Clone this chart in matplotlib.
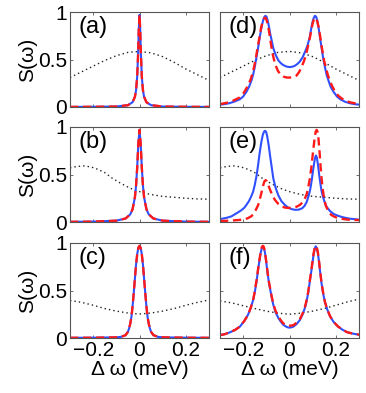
"""S(omega) spectra, six panels (a)-(f): blue solid / red dashed / black dotted."""

import matplotlib

matplotlib.use("Agg")
import matplotlib.pyplot as plt

plt.rcParams["font.family"] = ["Liberation Sans", "DejaVu Sans"]
plt.rcParams["axes.unicode_minus"] = True

# --- panel (a): narrow single line ---
x_a = [-0.3, -0.2, -0.1, -0.05, -0.03, -0.02, -0.015, -0.01, -0.006, -0.003, 0.0,
       0.003, 0.006, 0.01, 0.015, 0.02, 0.03, 0.05, 0.1, 0.2, 0.3]
s_a = [0.001, 0.002, 0.005, 0.019, 0.05, 0.106, 0.173, 0.319, 0.559, 0.82, 0.97,
       0.82, 0.559, 0.319, 0.173, 0.106, 0.05, 0.019, 0.005, 0.002, 0.001]
xd_a = [-0.3, -0.25, -0.2, -0.15, -0.1, -0.05, 0.0, 0.05, 0.1, 0.15, 0.2, 0.25, 0.3]
d_a = [0.31, 0.37, 0.43, 0.49, 0.54, 0.575, 0.585, 0.57, 0.53, 0.47, 0.40, 0.34, 0.28]

# --- panel (b) ---
x_b = [-0.3, -0.2, -0.1, -0.06, -0.04, -0.03, -0.02, -0.015, -0.01, -0.005, 0.0,
       0.005, 0.01, 0.015, 0.02, 0.03, 0.04, 0.06, 0.1, 0.2, 0.3]
s_b = [0.002, 0.004, 0.014, 0.037, 0.08, 0.134, 0.257, 0.378, 0.572, 0.826, 0.97,
       0.826, 0.572, 0.378, 0.257, 0.134, 0.08, 0.037, 0.014, 0.004, 0.002]
xd_be = [-0.3, -0.27, -0.24, -0.21, -0.18, -0.15, -0.12, -0.09, -0.06, -0.03, 0.0,
         0.03, 0.06, 0.1, 0.15, 0.2, 0.25, 0.3]
d_be = [0.57, 0.585, 0.59, 0.58, 0.555, 0.52, 0.465, 0.42, 0.38, 0.345, 0.32,
        0.30, 0.285, 0.27, 0.26, 0.25, 0.243, 0.24]

# --- panel (c) ---
x_c = [-0.3, -0.2, -0.1, -0.08, -0.06, -0.05, -0.045, -0.04, -0.035, -0.03, -0.025,
       -0.02, -0.015, -0.01, -0.005, 0.0, 0.005, 0.01, 0.015, 0.02, 0.025, 0.03,
       0.035, 0.04, 0.045, 0.05, 0.06, 0.08, 0.1, 0.2, 0.3]
s_c = [0.002, 0.003, 0.007, 0.012, 0.03, 0.065, 0.1, 0.15, 0.22, 0.33, 0.47,
       0.62, 0.77, 0.88, 0.95, 0.97, 0.95, 0.88, 0.77, 0.62, 0.47, 0.33,
       0.22, 0.15, 0.1, 0.065, 0.03, 0.012, 0.007, 0.003, 0.002]
xd_cf = [-0.3, -0.25, -0.2, -0.15, -0.1, -0.05, 0.0, 0.05, 0.1, 0.15, 0.2, 0.25, 0.3]
d_c = [0.395, 0.375, 0.345, 0.31, 0.283, 0.263, 0.252, 0.263, 0.283, 0.31, 0.345, 0.375, 0.40]

# --- panel (d): doublet ---
xb_d = [-0.3, -0.28, -0.26, -0.24, -0.215, -0.2, -0.186, -0.175, -0.164, -0.157,
        -0.15, -0.143, -0.135, -0.128, -0.12, -0.113, -0.108, -0.104, -0.099, -0.094,
        -0.089, -0.084, -0.077, -0.07, -0.06, -0.048, -0.037, -0.026, -0.012, 0.002,
        0.014, 0.024, 0.035, 0.045, 0.056, 0.067, 0.078, 0.088, 0.094, 0.1,
        0.105, 0.11, 0.115, 0.12, 0.127, 0.133, 0.138, 0.145, 0.153, 0.16,
        0.168, 0.178, 0.19, 0.205, 0.22, 0.24, 0.26, 0.28, 0.3]
sb_d = [0.025, 0.03, 0.04, 0.055, 0.08, 0.11, 0.16, 0.21, 0.28, 0.34,
        0.42, 0.52, 0.63, 0.74, 0.85, 0.92, 0.95, 0.96, 0.95, 0.91,
        0.85, 0.78, 0.70, 0.62, 0.55, 0.49, 0.46, 0.44, 0.425, 0.42,
        0.425, 0.435, 0.455, 0.48, 0.52, 0.58, 0.65, 0.74, 0.83, 0.9,
        0.94, 0.96, 0.95, 0.91, 0.81, 0.71, 0.63, 0.52, 0.42, 0.34,
        0.28, 0.21, 0.16, 0.11, 0.08, 0.055, 0.04, 0.03, 0.025]
xr_d = [-0.3, -0.28, -0.26, -0.24, -0.215, -0.2, -0.19, -0.178, -0.168, -0.16,
        -0.153, -0.145, -0.138, -0.13, -0.123, -0.116, -0.11, -0.106, -0.101, -0.096,
        -0.09, -0.084, -0.078, -0.072, -0.062, -0.05, -0.038, -0.026, -0.012, 0.002,
        0.016, 0.03, 0.042, 0.052, 0.062, 0.07, 0.078, 0.088, 0.095, 0.1,
        0.105, 0.11, 0.115, 0.12, 0.126, 0.132, 0.138, 0.145, 0.15, 0.157,
        0.164, 0.172, 0.182, 0.195, 0.21, 0.225, 0.245, 0.26, 0.28, 0.3]
sr_d = [0.03, 0.04, 0.05, 0.07, 0.1, 0.14, 0.18, 0.23, 0.29, 0.35,
        0.42, 0.52, 0.62, 0.73, 0.83, 0.9, 0.93, 0.94, 0.93, 0.89,
        0.82, 0.73, 0.63, 0.55, 0.45, 0.38, 0.34, 0.32, 0.31, 0.31,
        0.315, 0.33, 0.37, 0.42, 0.48, 0.54, 0.62, 0.73, 0.82, 0.88,
        0.92, 0.94, 0.93, 0.9, 0.84, 0.75, 0.65, 0.55, 0.48, 0.42,
        0.35, 0.29, 0.23, 0.17, 0.12, 0.09, 0.065, 0.05, 0.04, 0.03]

# --- panel (e): asymmetric doublet ---
xb_e = [-0.3, -0.27, -0.25, -0.23, -0.21, -0.195, -0.186, -0.175, -0.165, -0.157,
        -0.15, -0.142, -0.135, -0.128, -0.121, -0.115, -0.11, -0.106, -0.101, -0.096,
        -0.09, -0.084, -0.077, -0.07, -0.06, -0.048, -0.035, -0.02, -0.005, 0.01,
        0.025, 0.04, 0.055, 0.065, 0.074, 0.082, 0.09, 0.096, 0.102, 0.107,
        0.111, 0.114, 0.118, 0.123, 0.128, 0.133, 0.138, 0.145, 0.153, 0.16,
        0.175, 0.19, 0.21, 0.23, 0.26, 0.3]
sb_e = [0.03, 0.045, 0.06, 0.09, 0.12, 0.15, 0.18, 0.22, 0.27, 0.32,
        0.39, 0.49, 0.61, 0.74, 0.85, 0.92, 0.95, 0.96, 0.95, 0.9,
        0.81, 0.70, 0.58, 0.46, 0.36, 0.28, 0.22, 0.18, 0.15, 0.135,
        0.128, 0.13, 0.145, 0.17, 0.21, 0.27, 0.35, 0.44, 0.55, 0.63,
        0.68, 0.70, 0.68, 0.6, 0.5, 0.41, 0.33, 0.26, 0.2, 0.16,
        0.115, 0.085, 0.065, 0.05, 0.035, 0.025]
xr_e = [-0.3, -0.25, -0.2, -0.18, -0.165, -0.157, -0.145, -0.135, -0.127, -0.12,
        -0.113, -0.108, -0.103, -0.098, -0.092, -0.084, -0.074, -0.062, -0.048, -0.034,
        -0.02, -0.005, 0.01, 0.03, 0.045, 0.058, 0.067, 0.075, 0.082, 0.088,
        0.094, 0.099, 0.104, 0.109, 0.113, 0.117, 0.121, 0.125, 0.13, 0.134,
        0.138, 0.143, 0.15, 0.157, 0.168, 0.18, 0.19, 0.21, 0.25, 0.3]
sr_e = [0.01, 0.015, 0.025, 0.04, 0.06, 0.08, 0.13, 0.18, 0.25, 0.32,
        0.39, 0.43, 0.44, 0.43, 0.39, 0.34, 0.28, 0.23, 0.19, 0.165,
        0.152, 0.148, 0.15, 0.16, 0.18, 0.21, 0.25, 0.3, 0.38, 0.46,
        0.57, 0.68, 0.79, 0.89, 0.95, 0.97, 0.95, 0.88, 0.73, 0.59,
        0.47, 0.35, 0.24, 0.17, 0.11, 0.075, 0.06, 0.04, 0.025, 0.02]

# --- panel (f): symmetric doublet ---
xb_f = [-0.3, -0.28, -0.257, -0.235, -0.214, -0.195, -0.185, -0.178, -0.167, -0.157,
        -0.15, -0.142, -0.136, -0.13, -0.124, -0.119, -0.115, -0.111, -0.106, -0.1,
        -0.094, -0.088, -0.084, -0.077, -0.07, -0.06, -0.048, -0.037, -0.027, -0.015,
        -0.005, 0.005, 0.017, 0.03, 0.045, 0.056, 0.067, 0.074, 0.081, 0.088,
        0.094, 0.099, 0.104, 0.109, 0.113, 0.117, 0.122, 0.127, 0.132, 0.138,
        0.145, 0.153, 0.163, 0.175, 0.19, 0.21, 0.23, 0.25, 0.275, 0.3]
sb_f = [0.03, 0.04, 0.06, 0.085, 0.12, 0.18, 0.22, 0.25, 0.32, 0.40,
        0.48, 0.60, 0.71, 0.81, 0.9, 0.95, 0.965, 0.95, 0.9, 0.79,
        0.67, 0.57, 0.52, 0.43, 0.35, 0.27, 0.21, 0.17, 0.14, 0.12,
        0.11, 0.11, 0.12, 0.145, 0.19, 0.245, 0.32, 0.39, 0.48, 0.6,
        0.7, 0.79, 0.88, 0.94, 0.965, 0.95, 0.9, 0.81, 0.7, 0.58,
        0.47, 0.38, 0.3, 0.23, 0.17, 0.12, 0.085, 0.06, 0.045, 0.035]
sr_f = [0.03, 0.04, 0.06, 0.085, 0.12, 0.18, 0.22, 0.25, 0.32, 0.40,
        0.49, 0.61, 0.72, 0.82, 0.91, 0.96, 0.97, 0.96, 0.91, 0.80,
        0.68, 0.58, 0.53, 0.44, 0.36, 0.285, 0.225, 0.185, 0.155, 0.135,
        0.13, 0.13, 0.135, 0.16, 0.2, 0.255, 0.33, 0.40, 0.49, 0.61,
        0.71, 0.8, 0.89, 0.95, 0.97, 0.96, 0.91, 0.82, 0.71, 0.59,
        0.48, 0.38, 0.3, 0.23, 0.17, 0.12, 0.085, 0.06, 0.045, 0.035]
d_f = [0.39, 0.37, 0.34, 0.31, 0.283, 0.262, 0.25, 0.262, 0.283, 0.31, 0.345, 0.38, 0.41]

PANEL_LABELS = ["(a)", "(b)", "(c)", "(d)", "(e)", "(f)"]
X_TICKS = [-0.2, 0, 0.2]
X_TICKLABELS = ["\u22120.2", "0", "0.2"]
Y_TICKS = [0, 0.5, 1]
Y_TICKLABELS = ["0", "0.5", "1"]

BLUE = "#3050ff"
RED = "#ff1a1a"

panels = [
    # (blue x, blue y, red x, red y, dotted x, dotted y)
    (x_a, s_a, x_a, s_a, xd_a, d_a),
    (x_b, s_b, x_b, s_b, xd_be, d_be),
    (x_c, s_c, x_c, s_c, xd_cf, d_c),
    (xb_d, sb_d, xr_d, sr_d, xd_a, d_a),
    (xb_e, sb_e, xr_e, sr_e, xd_be, d_be),
    (xb_f, sb_f, xb_f, sr_f, xd_cf, d_f),
]

W, H = 366, 393
fig = plt.figure(figsize=(W / 100, H / 100), dpi=100)

col_left = [70, 220]
row_top = [12, 127, 243]
ax_w, ax_h = 139, 95

for i, (bx, by, rx, ry, dx, dy) in enumerate(panels):
    col, row = divmod(i, 3)
    left = col_left[col] / W
    bottom = (H - row_top[row] - ax_h) / H
    ax = fig.add_axes([left, bottom, ax_w / W, ax_h / H])

    ax.plot(dx, dy, color="#222222", linestyle=(0, (1, 2.2)), linewidth=1.0)
    ax.plot(bx, by, color=BLUE, linewidth=1.5)
    ax.plot(rx, ry, color=RED, linestyle=(0, (3.5, 2)), linewidth=1.7)

    ax.set_xlim(-0.3, 0.3)
    ax.set_ylim(0, 1)
    ax.set_xticks(X_TICKS)
    ax.set_yticks(Y_TICKS)
    ax.tick_params(direction="in", top=True, right=True, length=2.5, width=0.6,
                   color="#555555", labelsize=15, pad=2)
    for sp in ax.spines.values():
        sp.set_color("#555555")
        sp.set_linewidth(0.8)

    if col == 0:
        ax.set_yticklabels(Y_TICKLABELS)
        ax.set_ylabel("S(\u03c9)", fontsize=15, labelpad=1)
    else:
        ax.set_yticklabels([])
    if row == 2:
        ax.set_xticklabels(X_TICKLABELS)
        ax.set_xlabel("\u0394 \u03c9 (meV)", fontsize=15, labelpad=0)
    else:
        ax.set_xticklabels([])

    ax.text(0.06, 0.96, PANEL_LABELS[i], transform=ax.transAxes,
            fontsize=17, ha="left", va="top")

fig.savefig("out.png", dpi=100)
